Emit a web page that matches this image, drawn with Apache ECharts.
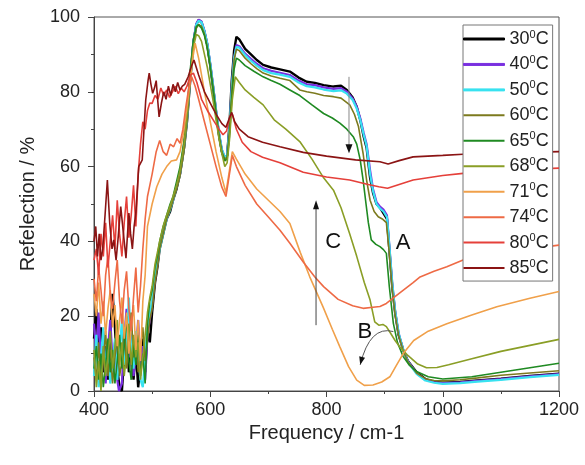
<!DOCTYPE html>
<html>
<head>
<meta charset="utf-8">
<script src="https://cdn.jsdelivr.net/npm/echarts@6/dist/echarts.min.js"></script>
<style>
  html, body { margin: 0; padding: 0; background: #fff; }
  #chart { width: 585px; height: 465px; }
</style>
</head>
<body>
<div id="chart"></div>
<script>
// Reflection spectra at increasing temperature: [frequency (cm-1), reflection (%)]
const temps = ['30', '40', '50', '60', '65', '68', '71', '74', '80', '85'];

const r30 = [[400,14],[404,22],[408,9],[412,17],[416,5],[420,12],[424,3],[428,15],[432,26],[436,17],[440,6],[444,1],[448,0],[452,9],[456,18],[460,5],[464,14],[468,3],[472,11],[476,1],[480,7],[484,14],[488,5],[492,16],[496,13],[500,21],[505,29],[509,33],[513,38],[519,42],[525,46],[531,48],[536,51],[542,54],[548,58],[555,65],[560,72],[565,82],[571,93],[576,98],[580,99.2],[585,98.6],[590,96],[595,92.5],[600,87],[605,81],[610,74.5],[615,68.5],[620,64],[625,62],[629,63],[633,71],[637,83],[641,91],[645,94.7],[650,94],[660,91.5],[670,90],[680,88.5],[691,87.2],[705,86.5],[720,86],[737,85.4],[752,83.8],[766,82.7],[780,82.4],[795,81.8],[812,81.4],[825,81.6],[835,80.5],[845,78.5],[852,76],[858,72.5],[864,68],[869,65],[875,57],[880,53],[886,50],[892,49],[898,47.5],[904,46],[908,38],[913,28],[918,21],[924,15],[932,11],[940,8],[955,5],[970,3.2],[985,2.5],[1000,2.2],[1030,2.4],[1060,2.8],[1100,3.3],[1150,4],[1200,4.6]];

const r40 = [[400,18],[404,10],[408,21],[412,6],[416,15],[420,2],[424,11],[428,19],[432,8],[436,13],[440,3],[443,0],[448,2],[452,14],[456,22],[460,9],[464,16],[468,4],[472,10],[476,19],[480,6],[484,12],[488,3],[492,15],[496,19],[500,23],[505,30],[509,34],[513,39],[519,43],[525,46],[531,49],[536,51],[542,55],[548,58],[555,66],[560,73],[565,83],[571,93.5],[576,98.2],[580,99.3],[585,98.8],[590,96.3],[595,92.8],[600,87.5],[605,81.5],[610,75],[615,69],[620,64.5],[625,62.5],[629,63],[633,70],[637,81],[641,89],[645,92.5],[650,92.2],[660,90.2],[670,88.8],[680,87.5],[691,86.3],[705,85.6],[720,85.1],[737,84.5],[752,83],[766,82],[780,81.8],[795,81.2],[812,80.8],[825,81],[835,80],[845,78.2],[852,76],[858,73],[864,69],[869,66],[875,59],[880,54],[886,50.5],[892,49.3],[898,48.5],[904,47],[908,39],[913,29],[918,21.5],[924,15.5],[932,11],[940,8],[955,4.8],[970,3],[985,2.4],[1000,2.1],[1030,2.3],[1060,2.7],[1100,3.2],[1150,3.9],[1200,4.5]];

const r50 = [[400,4],[404,15],[408,1],[412,9],[416,17],[420,5],[424,12],[428,2],[432,7],[436,14],[440,3],[444,10],[448,19],[452,7],[456,13],[460,25],[464,11],[468,6],[472,16],[476,9],[480,3],[484,1],[488,9],[492,17],[496,21],[500,24],[505,31],[509,34],[513,38],[519,42],[525,46],[531,48.5],[536,51],[542,54.5],[548,58],[555,65.5],[560,72.5],[565,82.5],[571,93],[576,98],[580,99],[585,98.6],[590,96.2],[595,92.8],[600,87.5],[605,81.5],[610,75],[615,69],[620,64.5],[625,62.5],[629,63],[633,70],[637,81],[641,89],[645,92],[650,91.8],[660,89.8],[670,88.3],[680,87],[691,85.8],[705,85],[720,84.6],[737,84],[752,82.5],[766,81.5],[780,81.2],[795,80.6],[812,80.2],[825,80.4],[835,79.5],[845,77.8],[852,75.5],[858,72.5],[864,68.5],[869,65.5],[875,58],[880,53.5],[886,50],[892,48.8],[898,48],[904,46.5],[908,39],[913,29],[918,21.5],[924,15.5],[932,11],[940,7.8],[955,4.6],[970,2.8],[985,2.2],[1000,1.9],[1030,2.1],[1060,2.5],[1100,3],[1150,3.7],[1200,4.3]];

const r60 = [[400,9],[404,3],[408,13],[412,1],[416,8],[420,16],[424,4],[428,11],[432,2],[436,9],[440,14],[444,4],[448,8],[452,17],[456,6],[460,12],[464,21],[468,9],[472,14],[476,5],[480,11],[484,17],[488,8],[492,14],[496,19],[500,22],[505,29],[509,33],[513,38],[519,42],[525,46],[531,48.5],[536,51],[542,54],[548,57.5],[555,64.5],[560,72],[565,81.5],[571,92.5],[576,97],[580,98],[585,97.5],[590,95.5],[595,92],[600,86.8],[605,81],[610,74.5],[615,68.5],[620,64],[625,62],[629,62.5],[633,69.5],[637,80],[641,88.5],[645,91.4],[650,91],[660,89],[670,87.5],[680,86.2],[691,85],[705,84.2],[720,83.6],[737,83],[754,80.5],[766,80],[780,79.6],[795,79],[812,78.7],[825,78.3],[840,76.5],[848,74],[855,70.7],[863,63.5],[869,56.4],[875,51],[882,48],[889,46.6],[896,46],[903,45],[908,37],[913,27.5],[918,20.5],[924,15],[932,10.8],[940,7.8],[955,4.8],[970,3.3],[985,2.8],[1000,2.7],[1030,3],[1060,3.5],[1100,4.2],[1150,4.8],[1200,5.4]];

const r65 = [[400,6],[404,12],[408,3],[412,10],[416,1],[420,7],[424,14],[428,5],[432,11],[436,2],[440,8],[444,15],[448,6],[452,12],[456,20],[460,8],[464,3],[468,13],[472,7],[476,15],[480,4],[484,10],[488,2],[492,18],[496,24],[500,27],[505,33],[509,36],[513,40],[519,44],[525,47],[531,50],[536,52],[542,56],[548,60],[555,67],[560,75],[565,85],[571,94],[576,97.5],[580,97.9],[585,97],[590,95],[595,91.5],[600,86.5],[605,80.5],[610,74],[615,68],[620,63.5],[625,61.5],[629,62],[633,68],[637,78],[641,86],[645,89],[650,88.5],[660,87],[675,85.5],[691,84],[705,83],[720,82],[737,80.5],[754,79],[775,76.5],[795,74.2],[810,73],[823,71.6],[835,70],[846,68],[852,66],[858,61.8],[863,56.4],[868,50],[872,45],[877,40.4],[885,39.2],[892,38.6],[898,37.8],[903,36.8],[908,28],[915,18.1],[922,13],[932,9.2],[942,7],[955,5.2],[975,3.8],[1000,3.2],[1050,3.8],[1100,5],[1150,6.2],[1200,7.4]];

const r68 = [[400,11],[404,1],[408,8],[412,0],[416,12],[420,4],[424,9],[428,16],[432,6],[436,12],[440,19],[444,7],[448,13],[452,4],[456,10],[460,18],[464,7],[468,15],[472,9],[476,13],[480,3],[484,9],[488,15],[492,21],[496,25],[500,28],[505,34],[509,37],[513,40],[519,44],[525,47],[531,49.5],[536,52],[542,55],[548,59],[555,66],[560,74],[565,83],[571,92],[576,95.3],[580,95],[585,93.5],[590,90],[595,86.5],[600,82],[605,77.5],[610,72.5],[615,67.5],[620,63.5],[625,60],[629,61],[633,67],[638,78],[643,84],[650,82.5],[660,80.5],[675,78.5],[691,76.5],[710,72.5],[730,70],[754,66.7],[775,62],[795,57],[812,53.7],[825,49],[840,42],[852,36],[865,29],[875,24.3],[883,18.5],[890,17.6],[897,17.8],[903,17.2],[910,15.5],[918,13.5],[926,11.8],[940,9.5],[957,7.2],[972,6.2],[990,6.3],[1010,7],[1050,8.6],[1100,10.6],[1150,12.2],[1200,13.8]];

const r71 = [[400,26],[404,20],[408,29],[412,18],[416,24],[420,15],[424,22],[428,27],[432,17],[436,23],[440,12],[444,19],[448,25],[452,14],[456,21],[460,10],[464,17],[468,23],[472,11],[476,19],[480,8],[484,24],[488,31],[492,44],[496,47],[500,50],[508,54.6],[517,58],[525,60],[533,61.5],[542,61.8],[548,64],[554,69],[560,76],[565,82.3],[570,89],[574,93],[580,89],[590,80],[600,72],[610,64],[620,57],[627,53],[633,59],[638,64],[645,62],[660,58],[680,54],[700,51],[720,48],[737,44.8],[755,37],[771,30.6],[794,22.5],[810,16.5],[823,11.8],[838,6.5],[852,2.9],[865,1.5],[880,1.6],[895,2.4],[909,3.8],[920,6.8],[932,10],[950,13.5],[975,16],[1007,18],[1050,20.3],[1093,22.5],[1150,24.8],[1200,26.6]];

const r74 = [[400,30],[404,24],[408,33],[412,27],[416,20],[420,31],[424,36],[428,26],[432,22],[436,29],[440,35],[444,24],[448,18],[452,27],[456,32],[460,22],[464,16],[468,25],[472,33],[476,21],[480,28],[484,38],[488,46],[492,52],[496,55],[500,58],[507,64],[513,67],[519,64],[525,63],[531,66],[537,65.3],[543,67.5],[548,66.2],[553,70],[558,76],[563,81],[568,84],[574,81.5],[580,78],[590,72],[600,66],[610,60],[620,54.5],[627,52],[633,58],[638,63],[645,60],[660,55],[680,50],[700,46.5],[720,43],[737,39.5],[760,34.5],[780,30.5],[795,27.9],[820,24.5],[845,22.8],[863,22.1],[880,22.4],[892,22.6],[903,23.4],[920,25.5],[949,29],[961,30.5],[985,32],[1007,33.2],[1035,35],[1100,37],[1150,38],[1200,39]];

const r80 = [[400,35],[404,38],[408,31],[412,42],[416,36],[420,45],[424,33],[428,40],[432,47],[436,38],[440,51],[444,42],[448,36],[452,45],[456,52],[460,41],[464,47],[468,55],[472,44],[476,58],[480,66],[484,72],[488,70],[492,75],[496,77],[500,76.9],[505,79],[510,78],[515,81],[520,79],[525,80.5],[530,78.5],[535,80],[540,81.5],[545,79.5],[550,81],[555,80],[560,81.5],[566,84.5],[571,85],[577,82.5],[585,78],[595,75],[605,72.5],[615,70],[622,68.5],[628,69.5],[634,73.5],[638,74],[645,70],[655,66.5],[670,64],[690,62.5],[720,61],[760,58.5],[800,57.2],[840,56.4],[870,55.3],[890,54.6],[905,54.2],[925,55.2],[949,56.4],[1000,57.6],[1035,58.2],[1100,58.9],[1150,59.3],[1200,59.6]];

const r85 = [[400,40],[403,44],[406,36],[409,42],[412,35],[415,38],[419,47],[423,56.4],[427,45],[431,38],[434,40.4],[438,35],[441,40],[446,49.3],[450,43],[455,35.5],[460,47.6],[463,42],[466,38],[469,44],[472,47.6],[477,60],[483,61.8],[486,70],[489,77.8],[493,83],[495,85],[498,82],[501,79.6],[504,81],[507,83],[510,77],[512,73.3],[516,77],[520,80],[524,78],[528,81.5],[532,79],[536,82],[540,80],[544,82.5],[548,80.5],[552,81.5],[556,82],[562,84],[568,87],[572,88.5],[580,84.5],[590,80],[600,77],[610,74],[620,71.5],[627,70.5],[633,73],[637,74.5],[642,72],[650,70],[665,68],[690,66.5],[720,65.3],[760,63.8],[800,62.8],[850,61.8],[892,61.3],[906,60.7],[925,61.6],[949,62.6],[1000,63],[1035,63.3],[1100,63.6],[1200,64]];

const spectra = [r30, r40, r50, r60, r65, r68, r71, r74, r80, r85];
const colors = ['#000000', '#7a2fe0', '#38e2f0', '#7c7a1e', '#1f8a22', '#8a9e26', '#f0a04a', '#ee6a45', '#e5403a', '#8b1414'];
const widths = [2.4, 2.2, 2.2, 1.6, 1.6, 1.6, 1.6, 1.6, 1.6, 1.6];

// Annotation anchors in data units
const arrowCool = [[838.7, 84], [838.7, 63.6]];
const arrowC = [[782, 17.6], [782, 51]];
const arrowB = [[915, 15.9], [874.8, 17.6], [858, 7]]; // start, control, end
const labelA = [931.6, 39.6];
const labelB = [866, 15.9];
const labelC = [811.7, 39.9];

const FONT = '"Liberation Sans", Arial, sans-serif';
const chart = echarts.init(document.getElementById('chart'), null, { renderer: 'canvas' });

const series = temps.map((t, i) => ({
  name: t + '°C',
  type: 'line',
  data: spectra[i],
  showSymbol: false,
  symbol: 'none',
  smooth: false,
  clip: true,
  lineStyle: { color: colors[i], width: widths[i] },
  itemStyle: { color: colors[i] },
  emphasis: { disabled: true },
  z: 2
}));

chart.setOption({
  animation: false,
  backgroundColor: '#ffffff',
  grid: { left: 94, right: 26, top: 17, bottom: 74, show: true, borderColor: '#555', borderWidth: 1, backgroundColor: 'transparent' },
  legend: {
    orient: 'vertical',
    left: 463,
    top: 25,
    padding: [4, 4, 3, 0],
    icon: 'rect',
    itemWidth: 41,
    itemHeight: 2,
    itemGap: 5.45,
    backgroundColor: '#ffffff',
    borderColor: '#777',
    borderWidth: 1,
    borderRadius: 0,
    data: temps.map((t, i) => ({
      name: t + '°C',
      itemStyle: { color: colors[i], borderColor: colors[i], borderWidth: i < 3 ? 1 : 0 }
    })),
    formatter: name => name.replace('°C', '') + '{sup|0}C',
    textStyle: {
      fontFamily: FONT, fontSize: 18, color: '#222', lineHeight: 20,
      rich: { sup: { fontFamily: FONT, fontSize: 11, color: '#222', verticalAlign: 'top', lineHeight: 11 } }
    }
  },
  xAxis: {
    type: 'value', min: 400, max: 1200, interval: 200,
    name: 'Frequency / cm-1', nameLocation: 'middle', nameGap: 31,
    nameTextStyle: { fontFamily: FONT, fontSize: 20, color: '#222' },
    axisLine: { show: true, onZero: false, lineStyle: { color: '#444', width: 1 } },
    axisTick: { show: true, inside: false, length: 6, lineStyle: { color: '#444' } },
    minorTick: { show: true, splitNumber: 2, length: 3, lineStyle: { color: '#444' } },
    axisLabel: { fontFamily: FONT, fontSize: 18, color: '#222', margin: 10, formatter: v => String(v) },
    splitLine: { show: false }
  },
  yAxis: {
    type: 'value', min: 0, max: 100, interval: 20,
    name: 'Refelection / %', nameLocation: 'middle', nameGap: 56, nameRotate: 90,
    nameTextStyle: { fontFamily: FONT, fontSize: 20, color: '#222' },
    axisLine: { show: true, onZero: false, lineStyle: { color: '#444', width: 1 } },
    axisTick: { show: true, inside: false, length: 6, lineStyle: { color: '#444' } },
    minorTick: { show: true, splitNumber: 2, length: 3, lineStyle: { color: '#444' } },
    axisLabel: { fontFamily: FONT, fontSize: 18, color: '#222', margin: 14, formatter: v => String(v) },
    splitLine: { show: false }
  },
  series: series
});

// Arrows and letter labels placed through the grid's coordinate system
function arrowHead(tip, from, len, half) {
  const dx = tip[0] - from[0], dy = tip[1] - from[1];
  const d = Math.hypot(dx, dy) || 1;
  const ux = dx / d, uy = dy / d;
  const bx = tip[0] - ux * len, by = tip[1] - uy * len;
  return {
    type: 'polygon', z: 10,
    shape: { points: [tip, [bx - uy * half, by + ux * half], [bx + uy * half, by - ux * half]] },
    style: { fill: '#111' }
  };
}

function notes() {
  const px = p => chart.convertToPixel({ gridIndex: 0 }, p);
  const els = [];
  const a1 = arrowCool.map(px);
  els.push({ type: 'line', z: 10, shape: { x1: a1[0][0], y1: a1[0][1], x2: a1[1][0], y2: a1[1][1] - 6 }, style: { stroke: '#888', lineWidth: 1 } });
  els.push(arrowHead(a1[1], a1[0], 9, 3.5));
  const c1 = arrowC.map(px);
  els.push({ type: 'line', z: 10, shape: { x1: c1[0][0], y1: c1[0][1], x2: c1[1][0], y2: c1[1][1] + 6 }, style: { stroke: '#444', lineWidth: 1 } });
  els.push(arrowHead(c1[1], c1[0], 9, 3));
  const b = arrowB.map(px);
  els.push({ type: 'bezierCurve', z: 10, shape: { x1: b[0][0], y1: b[0][1], cpx1: b[1][0], cpy1: b[1][1], x2: b[2][0], y2: b[2][1] }, style: { stroke: '#555', lineWidth: 1, fill: null } });
  els.push(arrowHead(b[2], b[1], 8, 3));
  [['A', labelA], ['B', labelB], ['C', labelC]].forEach(([t, p]) => {
    const q = px(p);
    els.push({ type: 'text', z: 11, x: q[0], y: q[1], style: { text: t, fontFamily: FONT, fontSize: 22, fill: '#111', align: 'center', verticalAlign: 'middle' } });
  });
  chart.setOption({ graphic: els });
}
notes();
</script>
</body>
</html>
